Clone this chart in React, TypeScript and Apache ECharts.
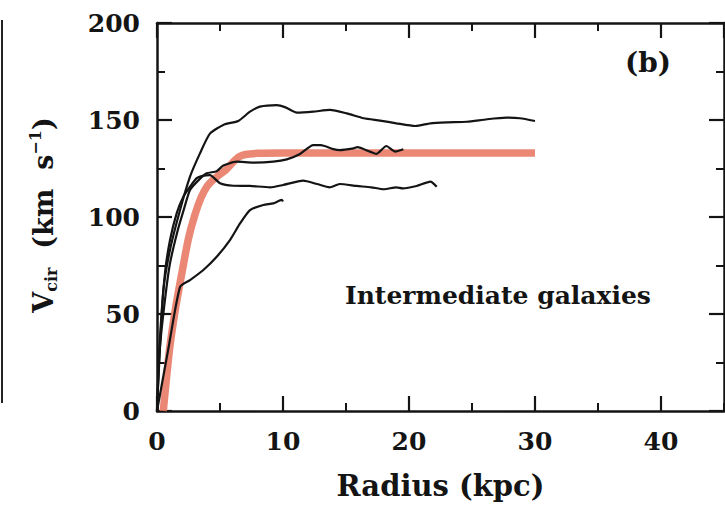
import React, { useEffect, useRef } from "react";
import * as echarts from "echarts";

const FONT = "DejaVu Serif";

const xMajorTicks = [0, 10, 20, 30, 40];
const yMajorTicks = [0, 50, 100, 150, 200];

// Rotation curves (radius kpc, Vcir km/s)
const curveA: [number, number][] = [
  [0, 0], [0.1, 15], [0.5, 62], [1.03, 83], [1.83, 103.6], [2.62, 120.8], [3.41, 132.8],
  [4.2, 143], [5.3, 147.6], [6.45, 149.5], [7.38, 154.3], [8.17, 156.9], [9.5, 157.7],
  [10.2, 156.5], [11.1, 153.8], [12.4, 154.3], [13.73, 155.2], [15.06, 153.4], [16.4, 150.9],
  [17.7, 149.7], [19.0, 148.3], [20.5, 146.9], [21.7, 148.3], [23.0, 148.8], [24.6, 149.1],
  [26.2, 150.4], [27.75, 151.2], [28.8, 150.9], [30.0, 149.5],
];

const curveB: [number, number][] = [
  [0, 0], [0.2, 30], [0.5, 50], [1.0, 75], [1.6, 92], [2.09, 103], [2.62, 113.9], [3.3, 119],
  [3.94, 122.5], [4.74, 123.6], [5.26, 126.5], [6.32, 128.5], [7.65, 128], [9.23, 128.5],
  [10.3, 129.7], [11.35, 132.5], [12.4, 137], [13.0, 137], [14.0, 135], [14.5, 134.5],
  [15.6, 135.4], [15.9, 136], [16.9, 133.7], [17.4, 132.5], [18.2, 136.6], [18.9, 133.7],
  [19.55, 134.9],
];

const curveC: [number, number][] = [
  [0, 0], [0.2, 34], [0.63, 71], [1.03, 88], [1.56, 101.9], [2.09, 110.5], [2.62, 115.6],
  [3.15, 120], [3.6, 121.2], [4.2, 121.6], [5.0, 117.4], [6.06, 116.1], [7.38, 116],
  [8.97, 115.3], [10.0, 116.5], [11.6, 118.7], [12.7, 117], [13.7, 115.3], [14.5, 117],
  [15.85, 116], [17.0, 115.3], [18.0, 114.3], [19.0, 115.3], [19.5, 114.8], [20.6, 116],
  [21.7, 118.2], [22.2, 115.6],
];

const curveD: [number, number][] = [
  [0, 0], [0.9, 32], [1.83, 64], [2.62, 67.5],
  [3.68, 72.7], [4.74, 79.5], [5.79, 88.1], [6.59, 96.7], [7.38, 103.6], [8.44, 106.2],
  [9.23, 107], [9.9, 108.8], [10.0, 108],
];

const modelCurve: [number, number][] = [
  [0.5, 0], [1.0, 32], [1.5, 54], [2.0, 72], [2.5, 89], [3.0, 101], [3.5, 110],
  [4.0, 116], [4.5, 119.5], [5.0, 122], [5.5, 124.5], [6.0, 128], [6.5, 131],
  [7.0, 132.2], [8.0, 132.8], [10.0, 133], [30, 133],
];

const blackCurves = [curveA, curveB, curveC, curveD];

export default function App() {
  const ref = useRef<HTMLDivElement>(null);
  useEffect(() => {
    const chart = echarts.init(ref.current!, null, { renderer: "svg" });
    const ink = "#141414";
    const tickLabel = { fontFamily: FONT, fontSize: 25, fontWeight: "bold", color: ink };
    const majorX = (position: string, labels: boolean) => ({
      type: "value",
      min: 0,
      max: 45,
      interval: 10,
      position,
      axisLine: { show: true, onZero: false, lineStyle: { color: ink, width: 2.5 } },
      axisTick: { show: true, inside: true, length: 15, lineStyle: { color: ink, width: 2.2 } },
      axisLabel: labels
        ? {
            ...tickLabel,
            margin: 18,
            showMaxLabel: false,
            formatter: (v: number) => (xMajorTicks.includes(v) ? String(v) : ""),
          }
        : { show: false },
      splitLine: { show: false },
      ...(labels
        ? {
            name: "Radius (kpc)",
            nameLocation: "middle",
            nameGap: 60,
            nameTextStyle: { fontFamily: FONT, fontSize: 29, fontWeight: "bold", color: ink },
          }
        : {}),
    });
    const minorX = (position: string) => ({
      type: "value",
      min: 0,
      max: 45,
      interval: 5,
      position,
      axisLine: { show: false, onZero: false },
      axisTick: { show: true, inside: true, length: 8, lineStyle: { color: ink, width: 2 } },
      axisLabel: { show: false },
      splitLine: { show: false },
    });
    const yAx = (position: string, labels: boolean) => ({
      type: "value",
      min: 0,
      max: 200,
      interval: 50,
      position,
      axisLine: { show: true, onZero: false, lineStyle: { color: ink, width: 2.5 } },
      axisTick: { show: true, inside: true, length: 15, lineStyle: { color: ink, width: 2.2 } },
      minorTick: { show: true, splitNumber: 2, length: 8, lineStyle: { color: ink, width: 2 } },
      axisLabel: labels
        ? {
            ...tickLabel,
            margin: 17,
            formatter: (v: number) => (yMajorTicks.includes(v) ? String(v) : ""),
          }
        : { show: false },
      splitLine: { show: false },
    });

    chart.setOption({
      animation: false,
      backgroundColor: "#ffffff",
      grid: { left: 157, right: 1, top: 23, bottom: 95, containLabel: false, outerBoundsMode: "none" },
      xAxis: [majorX("bottom", true), minorX("bottom"), majorX("top", false), minorX("top")],
      yAxis: [yAx("left", true), yAx("right", false)],
      series: [
        {
          type: "line",
          data: modelCurve,
          xAxisIndex: 0,
          yAxisIndex: 0,
          symbol: "none",
          smooth: 0.25,
          z: 1,
          lineStyle: { color: "rgba(232,118,98,0.88)", width: 7.5, cap: "butt", join: "round" },
        },
        ...blackCurves.map((d) => ({
          type: "line",
          data: d,
          xAxisIndex: 0,
          yAxisIndex: 0,
          symbol: "none",
          smooth: 0.2,
          z: 3,
          lineStyle: { color: ink, width: 2.2 },
        })),
      ],
      graphic: [
        {
          type: "line",
          shape: { x1: 2, y1: 20, x2: 2, y2: 403 },
          style: { stroke: "#222", lineWidth: 2 },
        },
        {
          type: "text",
          x: 345,
          y: 295,
          style: {
            text: "Intermediate galaxies",
            fontFamily: FONT,
            fontSize: 25,
            fontWeight: "bold",
            fill: ink,
            align: "left",
            verticalAlign: "middle",
          },
        },
        {
          type: "text",
          x: 625,
          y: 62,
          style: {
            text: "(b)",
            fontFamily: FONT,
            fontSize: 28,
            fontWeight: "bold",
            fill: ink,
            align: "left",
            verticalAlign: "middle",
          },
        },
        {
          type: "text",
          x: 43,
          y: 215,
          rotation: Math.PI / 2,
          style: {
            text: "V{sub|cir}  (km  s{sup|−1})",
            fontFamily: FONT,
            fontSize: 27,
            fontWeight: "bold",
            lineHeight: 32,
            fill: ink,
            align: "center",
            verticalAlign: "middle",
            rich: {
              sub: { fontFamily: FONT, fontSize: 16, fontWeight: "bold", lineHeight: 16, verticalAlign: "bottom", fill: ink },
              sup: { fontFamily: FONT, fontSize: 16, fontWeight: "bold", lineHeight: 16, verticalAlign: "top", fill: ink },
            },
          },
        },
      ],
    });
    return () => chart.dispose();
  }, []);
  return (
    <div
      ref={ref}
      style={{ position: "absolute", left: 0, top: 0, width: 725, height: 506 }}
    />
  );
}
